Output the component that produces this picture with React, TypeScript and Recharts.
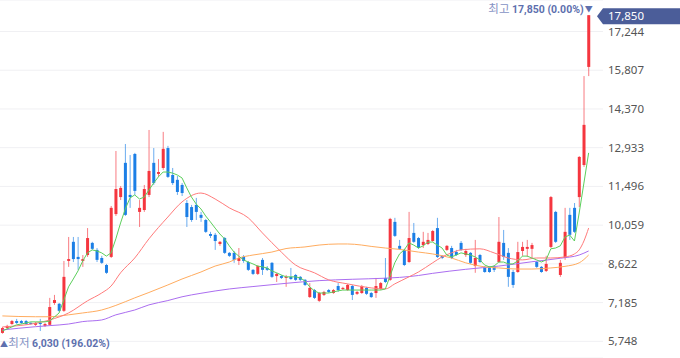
import { Bar, CartesianGrid, ComposedChart, Line, ReferenceDot, ReferenceLine, XAxis, YAxis } from 'recharts'

const UP = '#f5363f'
const DOWN = '#1c7fe6'

const Y_TICKS = [5748, 7185, 8622, 10059, 11496, 12933, 14370, 15807, 17244]
const LAST_PRICE = 17850
const HIGH_PRICE = 17850
const LOW_PRICE = 6030

// [open, high, low, close]
const OHLC: [number, number, number, number][] = [
  [6060, 6280, 6030, 6240], [6240, 6360, 6210, 6320], [6390, 6540, 6360, 6500], [6500, 6580, 6390, 6430],
  [6500, 6540, 6390, 6430], [6500, 6540, 6360, 6390], [6430, 6470, 6360, 6390], [6360, 6470, 6320, 6430],
  [6430, 6580, 6130, 6390], [6320, 6430, 6280, 6390], [6360, 7360, 6320, 7020], [7170, 7470, 7100, 7280],
  [7140, 7170, 6840, 6880], [6880, 8730, 6840, 8140], [8730, 9620, 8510, 8800], [9440, 9620, 8690, 8800],
  [8880, 9620, 8400, 8800], [8730, 8950, 8510, 8800], [8950, 9950, 8880, 9580], [9400, 9440, 9140, 9180],
  [9140, 9210, 8690, 8770], [8840, 8920, 8620, 8660], [8580, 8620, 8250, 8290], [8880, 10770, 8840, 10700],
  [10470, 12810, 10400, 11400], [11100, 11510, 10990, 11440], [12370, 13070, 10400, 10440], [11180, 12660, 10700, 11100],
  [12700, 12740, 11180, 11330], [10550, 10990, 9990, 10700], [10620, 11550, 10550, 11400], [11180, 13590, 11100, 12070],
  [12370, 12920, 11550, 11620], [11960, 12510, 11850, 12030], [12180, 13520, 12110, 12890], [12920, 13000, 11810, 11850],
  [11920, 12180, 11550, 11620], [11740, 11880, 11180, 11290], [11550, 11620, 11140, 11250], [10880, 10990, 9990, 10360],
  [10730, 10810, 10180, 10250], [10810, 11070, 10250, 10550], [10440, 10550, 10180, 10330], [10250, 10290, 9770, 9810],
  [9730, 9810, 9580, 9660], [9700, 9770, 9140, 9470], [9360, 9470, 9290, 9440], [9580, 9620, 8990, 9030],
  [9030, 9060, 8880, 8920], [9030, 9100, 8660, 8770], [8730, 9210, 8580, 8840], [8880, 8950, 8660, 8730],
  [8690, 8730, 8360, 8400], [8400, 8430, 8210, 8250], [8250, 8580, 8210, 8540], [8770, 8840, 8210, 8400],
  [8470, 8540, 8360, 8400], [8660, 8690, 8100, 8140], [8170, 8290, 7950, 8250], [8170, 8210, 8060, 8100],
  [8100, 8210, 7770, 8140], [8140, 8470, 8030, 8060], [8210, 8250, 7990, 8030], [8140, 8170, 7990, 8030],
  [8030, 8060, 7800, 7840], [7390, 7910, 7360, 7730], [7650, 7690, 7320, 7360], [7250, 7580, 7210, 7540],
  [7470, 7620, 7430, 7580], [7650, 7690, 7540, 7580], [7540, 7690, 7510, 7650], [7800, 7910, 7580, 7650],
  [7690, 7770, 7650, 7730], [7650, 7880, 7620, 7840], [7800, 7840, 7280, 7470], [7510, 7620, 7470, 7580],
  [7540, 7840, 7510, 7800], [7730, 7770, 7470, 7510], [7540, 7580, 7360, 7390], [7540, 8100, 7360, 7800],
  [7690, 7950, 7650, 7910], [8100, 8840, 7910, 7950], [8030, 10330, 7990, 10290], [10180, 10330, 9620, 9660],
  [9290, 9510, 9140, 9180], [9140, 9180, 8540, 8580], [8690, 10550, 8660, 9580], [9770, 10140, 9400, 9440],
  [9580, 9620, 9180, 9210], [9320, 9810, 9210, 9440], [9360, 9770, 9320, 9510], [9470, 9880, 9440, 9840],
  [9950, 10330, 8840, 8880], [8920, 8950, 8800, 8840], [9140, 9320, 9100, 9290], [9210, 9290, 8800, 8840],
  [9060, 9140, 8920, 8950], [9400, 9470, 9100, 9140], [8950, 9180, 8880, 9100], [9030, 9060, 8620, 8660],
  [8540, 9510, 8290, 8840], [8950, 8990, 8660, 8690], [8510, 8540, 8290, 8320], [8510, 8540, 8290, 8320],
  [8510, 8580, 8320, 8400], [8690, 10360, 8660, 9440], [9400, 9880, 8770, 8880], [9030, 9210, 7770, 8140],
  [8320, 8400, 7730, 7840], [8320, 9440, 8290, 9060], [9100, 9440, 8920, 9250], [9180, 9510, 8880, 9250],
  [9180, 9400, 8840, 9320], [8690, 8730, 8470, 8510], [8510, 8540, 8290, 8320], [8360, 8920, 8320, 8620],
  [9250, 11140, 9210, 11100], [10550, 10590, 9400, 9440], [8210, 8770, 8140, 8660], [8840, 10700, 8770, 9810],
  [10440, 10700, 9510, 9700], [10700, 10880, 9770, 9810], [11100, 12620, 10730, 12590], [12290, 15590, 12220, 13780],
  [15930, 17850, 15590, 17850],
]

const MA5 = [
  6130, 6210, 6280, 6360, 6390, 6430, 6470, 6470, 6470, 6470, 6500, 6650, 6800, 7280, 7770, 8060,
  8360, 8730, 9030, 9140, 9100, 9030, 8910, 9030, 9550, 10140, 10660, 11070, 11180, 11030, 11100, 11360,
  11620, 11850, 12030, 12030, 11990, 11920, 11810, 11440, 11100, 10840, 10660, 10400, 10180, 9950, 9730, 9550,
  9290, 9060, 8910, 8770, 8690, 8620, 8540, 8510, 8470, 8360, 8290, 8210, 8140, 8140, 8140, 8100,
  7990, 7770, 7620, 7540, 7540, 7540, 7580, 7620, 7650, 7650, 7650, 7650, 7650, 7650, 7650, 7650,
  7650, 7690, 8170, 8660, 8990, 9140, 9400, 9320, 9210, 9290, 9430, 9430, 9320, 9210, 8950, 8880,
  8950, 9030, 8990, 8950, 8880, 8770, 8580, 8510, 8540, 8690, 8690, 8620, 8620, 8730, 8910, 8910,
  8840, 8770, 8690, 8770, 9180, 9210, 9290, 9620, 9690, 9470, 10510, 11620, 12740,
]

// [candle index, value]
const MA20: [number, number][] = [
  [0, 6280], [10, 6540], [14, 6800], [18, 7250], [21, 7540], [23, 7800], [25, 8290], [28, 8840],
  [31, 9550], [35, 10360], [38, 10920], [42, 11250], [45, 11030], [48, 10700], [52, 10330], [55, 9770],
  [59, 9060], [62, 8580], [66, 8290], [69, 8030], [73, 7880], [78, 7730], [81, 7690], [83, 7880],
  [86, 8140], [88, 8320], [91, 8660], [93, 8880], [95, 9030], [97, 9140], [101, 9180], [104, 9030],
  [107, 8840], [110, 8770], [113, 8840], [116, 8840], [119, 8880], [121, 8990], [122, 9140], [123, 9470],
  [124, 9950],
]

const MA60: [number, number][] = [
  [0, 6690], [7, 6660], [10, 6660], [14, 6730], [17, 6800], [21, 6910], [24, 7080], [28, 7360],
  [31, 7560], [35, 7840], [38, 8060], [42, 8320], [45, 8540], [48, 8690], [50, 8840], [53, 8950],
  [57, 9060], [60, 9190], [64, 9250], [67, 9320], [71, 9360], [73, 9360], [76, 9320], [78, 9270],
  [81, 9210], [84, 9160], [88, 9060], [91, 8990], [95, 8840], [98, 8660], [102, 8510], [105, 8470],
  [109, 8430], [112, 8430], [116, 8470], [119, 8530], [122, 8660], [124, 8950],
]

const MA120: [number, number][] = [
  [0, 6170], [7, 6290], [10, 6330], [14, 6390], [17, 6480], [21, 6540], [24, 6730], [28, 6910],
  [31, 7100], [35, 7260], [38, 7400], [42, 7530], [48, 7690], [53, 7780], [60, 7900], [67, 8000],
  [74, 8050], [81, 8090], [84, 8120], [88, 8190], [91, 8270], [98, 8420], [105, 8540], [112, 8700],
  [118, 8830], [122, 8950], [124, 9100],
]

type Row = {
  d: number
  open: number
  high: number
  low: number
  close: number
  range: [number, number]
  ma5: number
  ma20: number | null
  ma60: number | null
  ma120: number | null
}

const rows: Row[] = OHLC.map(([open, high, low, close], i) => ({
  d: i,
  open,
  high,
  low,
  close,
  range: [low, high],
  ma5: MA5[i],
  ma20: null,
  ma60: null,
  ma120: null,
}))
MA20.forEach(([i, v]) => (rows[i].ma20 = v))
MA60.forEach(([i, v]) => (rows[i].ma60 = v))
MA120.forEach(([i, v]) => (rows[i].ma120 = v))

const fmt = (v: number) => v.toLocaleString('en-US')

const NUM_FONT = "Roboto, 'Noto Sans', sans-serif"
const KR_FONT = "'Noto Sans CJK KR', sans-serif"

function Candle(props: any) {
  const { x, y, width, height, payload } = props
  if (!payload) return null
  const { open, close, high, low } = payload as Row
  const top = Math.min(y, y + height)
  const h = Math.abs(height)
  const ratio = high > low ? h / (high - low) : 0
  const cx = x + width / 2
  const at = (v: number) => top + (high - v) * ratio
  const color = close >= open ? UP : DOWN
  const bTop = at(Math.max(open, close))
  const bBot = at(Math.min(open, close))
  return (
    <g>
      <line x1={cx} x2={cx} y1={top} y2={top + h} stroke={color} strokeOpacity={0.65} strokeWidth={1} />
      <rect x={cx - 1.5} y={bTop} width={3} height={Math.max(1, bBot - bTop)} fill={color} />
    </g>
  )
}

function PriceTag(props: any) {
  const { viewBox } = props
  const y = viewBox.y
  const x0 = viewBox.x + viewBox.width
  return (
    <g>
      <polygon
        points={`${x0 - 6},${y + 1} ${x0},${y - 7} ${680},${y - 7} ${680},${y + 9} ${x0},${y + 9}`}
        fill="#4b5d99"
      />
      <text x={x0 + 5} y={y + 1} dy="0.355em" fill="#fff" fontSize={11.5} fontFamily="'Noto Sans', sans-serif">
        {fmt(LAST_PRICE)}
      </text>
    </g>
  )
}

function HighLabel(props: any) {
  const { viewBox } = props
  const cx = viewBox.x
  const cy = viewBox.y
  return (
    <g fontSize={10.5}>
      <text x={cx - 5} y={cy - 2} textAnchor="end">
        <tspan fill="#8592c4" fontFamily={KR_FONT} fontSize={11.5}>최고 </tspan>
        <tspan fill="#5d70ae" fontWeight={700} fontFamily={NUM_FONT}>{fmt(HIGH_PRICE)} (0.00%)</tspan>
      </text>
      <text x={cx} y={cy - 3} textAnchor="middle" fill="#5d70ae" fontSize={8} fontFamily={KR_FONT}>▼</text>
    </g>
  )
}

function LowLabel(props: any) {
  const { viewBox } = props
  const cx = viewBox.x
  const cy = viewBox.y
  const pct = ((HIGH_PRICE / LOW_PRICE - 1) * 100).toFixed(2)
  return (
    <g fontSize={10.5}>
      <text x={cx + 1.5} y={cy + 13} textAnchor="middle" fill="#5d70ae" fontSize={8} fontFamily={KR_FONT}>▲</text>
      <text x={cx + 6} y={cy + 13.5}>
        <tspan fill="#8592c4" fontFamily={KR_FONT} fontSize={11.5}>최저 </tspan>
        <tspan fill="#5d70ae" fontWeight={700} fontFamily={NUM_FONT}>{fmt(LOW_PRICE)} ({pct}%)</tspan>
      </text>
    </g>
  )
}

export default function App() {
  return (
    <div style={{ position: 'absolute', left: 0, top: 0, background: '#fff' }}>
      <ComposedChart width={680} height={358} data={rows} margin={{ top: 0, right: 0, bottom: 0, left: 0 }}>
        <CartesianGrid stroke="#f0f0f3" vertical={false} />
        <XAxis dataKey="d" type="category" hide padding={{ left: 0, right: 12 }} />
        <YAxis
          orientation="right"
          width={77}
          domain={[5129, 18413]}
          ticks={Y_TICKS}
          interval={0}
          axisLine={false}
          tickLine={false}
          tickSize={0}
          tickMargin={5}
          tickFormatter={fmt}
          tick={{ fill: '#555', fontSize: 11.5, fontFamily: "'Noto Sans', sans-serif", textAnchor: 'start' }}
        />
        <Bar dataKey="range" shape={<Candle />} activeBar={false} isAnimationActive={false} />
        <Line dataKey="ma120" stroke="#ab6ef0" strokeWidth={1} dot={false} activeDot={false} type="monotone" connectNulls isAnimationActive={false} />
        <Line dataKey="ma60" stroke="#ffac5f" strokeWidth={1} dot={false} activeDot={false} type="monotone" connectNulls isAnimationActive={false} />
        <Line dataKey="ma20" stroke="#ff7b7b" strokeWidth={1} dot={false} activeDot={false} type="monotone" connectNulls isAnimationActive={false} />
        <Line dataKey="ma5" stroke="#5ccf5c" strokeWidth={1} dot={false} activeDot={false} type="linear" isAnimationActive={false} />
        <ReferenceLine y={LAST_PRICE} stroke="none" label={(p: any) => <PriceTag {...p} />} />
        <ReferenceDot x={OHLC.length - 1} y={HIGH_PRICE} r={0} fill="none" stroke="none" label={(p: any) => <HighLabel {...p} />} />
        <ReferenceDot x={0} y={LOW_PRICE} r={0} fill="none" stroke="none" label={(p: any) => <LowLabel {...p} />} />
      </ComposedChart>
    </div>
  )
}
